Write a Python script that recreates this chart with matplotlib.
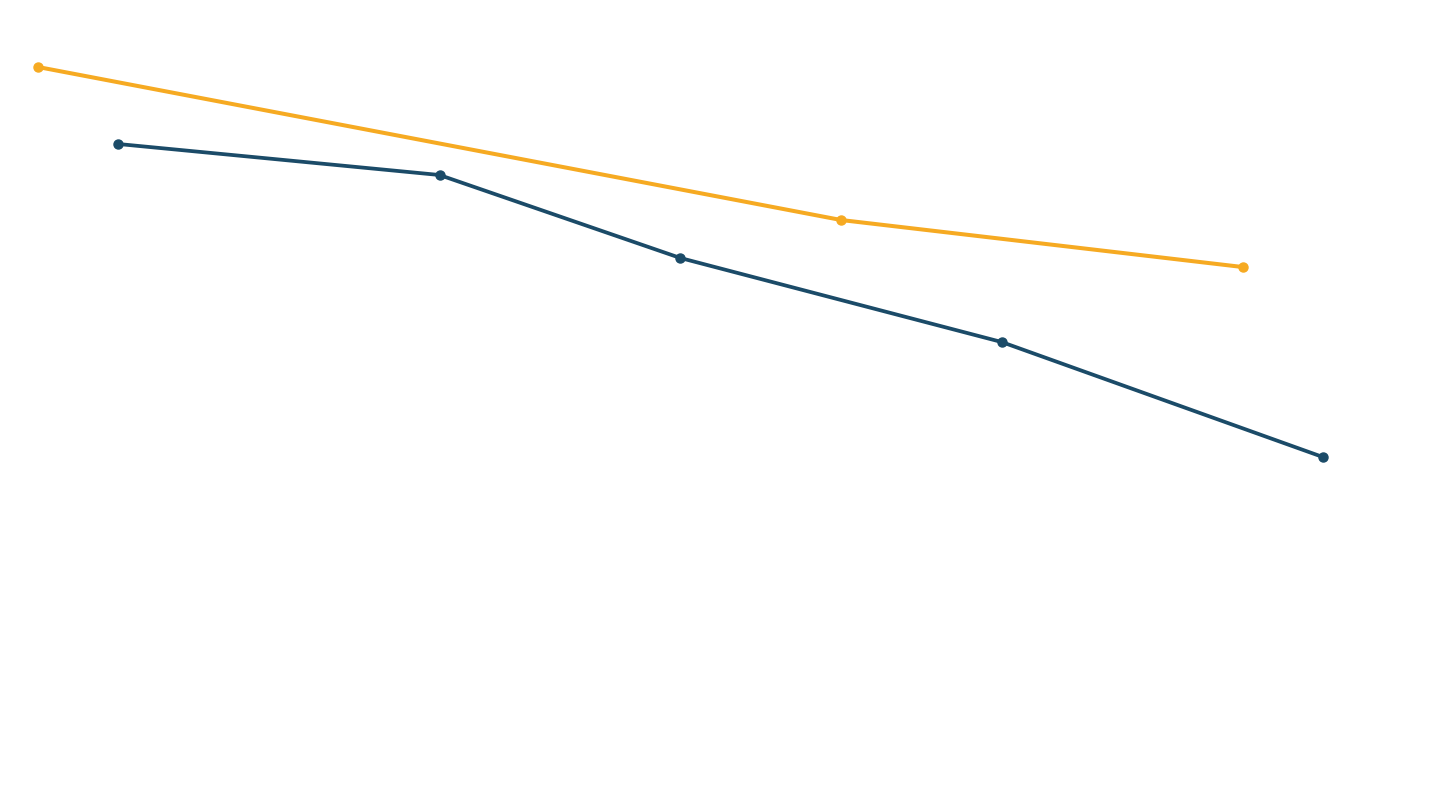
import matplotlib
matplotlib.use("Agg")
import matplotlib.pyplot as plt

# Data (x in years from start, y in arbitrary units)
orange_x = [0, 10, 15]
orange_y = [74.3, 59.0, 54.3]
blue_x = [1, 5, 8, 12, 16]
blue_y = [66.6, 63.5, 55.2, 46.8, 35.3]

ORANGE = "#F6AA22"
BLUE = "#1B4B68"

fig = plt.figure(figsize=(14.4, 8.1), dpi=100)
ax = fig.add_axes([0, 0, 1, 1])
ax.plot(orange_x, orange_y, color=ORANGE, lw=2.9, marker="o", ms=6.5,
        solid_capstyle="round")
ax.plot(blue_x, blue_y, color=BLUE, lw=2.7, marker="o", ms=6.5,
        solid_capstyle="round")
ax.set_xlim(-38 / 80.3, (1440 - 38) / 80.3)
ax.set_ylim(0, 81)
ax.axis("off")
fig.savefig("out.png", dpi=100, facecolor="white")
